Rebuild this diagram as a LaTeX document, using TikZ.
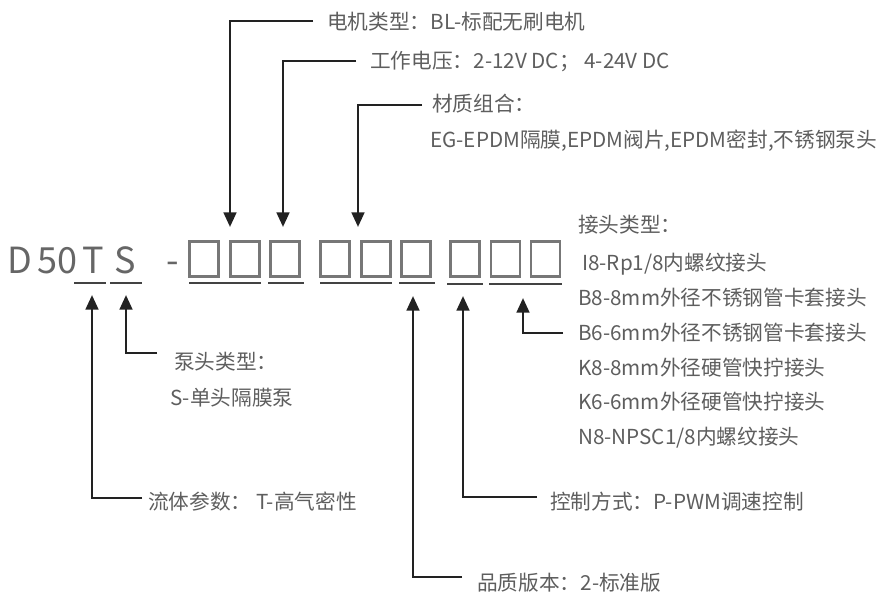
\documentclass[tikz,border=0pt]{standalone}
\usepackage{fontspec}
\setmainfont{Noto Sans CJK SC}
\usetikzlibrary{arrows.meta}
\definecolor{txt}{HTML}{5E5E5E}
\definecolor{codetxt}{HTML}{666666}
\definecolor{ln}{HTML}{222222}
\definecolor{bx}{HTML}{777777}
\begin{document}
\begin{tikzpicture}[x=0.75pt,y=-0.75pt,
  lbl/.style={anchor=west,inner sep=0pt,text=txt,font=\fontsize{15.5pt}{18pt}\selectfont,text height=13.6pt,text depth=1.9pt},
  code/.style={anchor=base west,inner sep=0pt,text=codetxt,font=\fontsize{27pt}{30pt}\selectfont},
  box/.style={draw=bx,line width=1.9pt,minimum width=22pt,minimum height=26.5pt,inner sep=0pt},
  uline/.style={draw=ln!85,line width=2pt},
  conn/.style={draw=ln,line width=2pt,-{Triangle[length=11pt,width=9.5pt]}}]
\useasboundingbox[fill=white] (0,0) rectangle (888,594);

% model code
\node[code] (cD) at (7,273) {D};
\node[code] (c50) at (37,273) {50};
\node[code] (cT) at (82,273) {T};
\node[code] (cS) at (114,273) {S};
\node[code] (cdash) at (166,273) {-};

% boxes
\foreach \i/\x in {1/204,2/245,3/285,4/335,5/376,6/416,7/465,8/505.5,9/545.5}
  \node[box] (b\i) at (\x,259) {};

% underlines
\draw[uline] (74,283) -- (106,283);
\draw[uline] (110,283) -- (142,283);
\draw[uline] (189,283) -- (261,283);
\draw[uline] (268,283) -- (304,283);
\draw[uline] (320,283) -- (392,283);
\draw[uline] (399,283) -- (435,283);
\draw[uline] (447,284) -- (483,284);
\draw[uline] (489,284) -- (562,284);

% labels
\node[lbl] (l1) at (327,22) {电机类型：BL-标配无刷电机};
\node[lbl] (l2) at (370,61) {工作电压：2-12V DC； 4-24V DC};
\node[lbl] (l3a) at (432,104) {材质组合：};
\node[lbl] (l3b) at (430,140) {EG-EPDM隔膜,EPDM阀片,EPDM密封,不锈钢泵头};
\node[lbl] (r0) at (578,225) {接头类型：};
\node[lbl] (r1) at (582,263) {I8-Rp1/8内螺纹接头};
\node[lbl] (r2) at (578,298) {B8-8mm外径不锈钢管卡套接头};
\node[lbl] (r3) at (578,333) {B6-6mm外径不锈钢管卡套接头};
\node[lbl] (r4) at (578,368) {K8-8mm外径硬管快拧接头};
\node[lbl] (r5) at (578,402) {K6-6mm外径硬管快拧接头};
\node[lbl] (r6) at (578,437) {N8-NPSC1/8内螺纹接头};
\node[lbl] (s1) at (174,362) {泵头类型：};
\node[lbl] (s2) at (170,398) {S-单头隔膜泵};
\node[lbl] (f1) at (148,502) {流体参数： T-高气密性};
\node[lbl] (k1) at (550,502) {控制方式：P-PWM调速控制};
\node[lbl] (q1) at (477,583) {品质版本：2-标准版};

% connector ends
\coordinate (e1) at (313,21);  \coordinate (t1) at (230,227);
\coordinate (e2) at (356,61);  \coordinate (t2) at (283,227);
\coordinate (e3) at (422,105); \coordinate (t3) at (358,227);
\coordinate (eT) at (142,498); \coordinate (tT) at (92,295);
\coordinate (eS) at (157,353); \coordinate (tS) at (126,295);
\coordinate (eQ) at (462,577); \coordinate (tQ) at (413,296);
\coordinate (eC) at (537,497); \coordinate (tC) at (463,296);
\coordinate (eB) at (563,333); \coordinate (tB) at (523,298);

\foreach \n in {1,2,3,T,S,Q,C,B}
  \draw[conn] (e\n) -| (t\n);
\end{tikzpicture}
\end{document}
